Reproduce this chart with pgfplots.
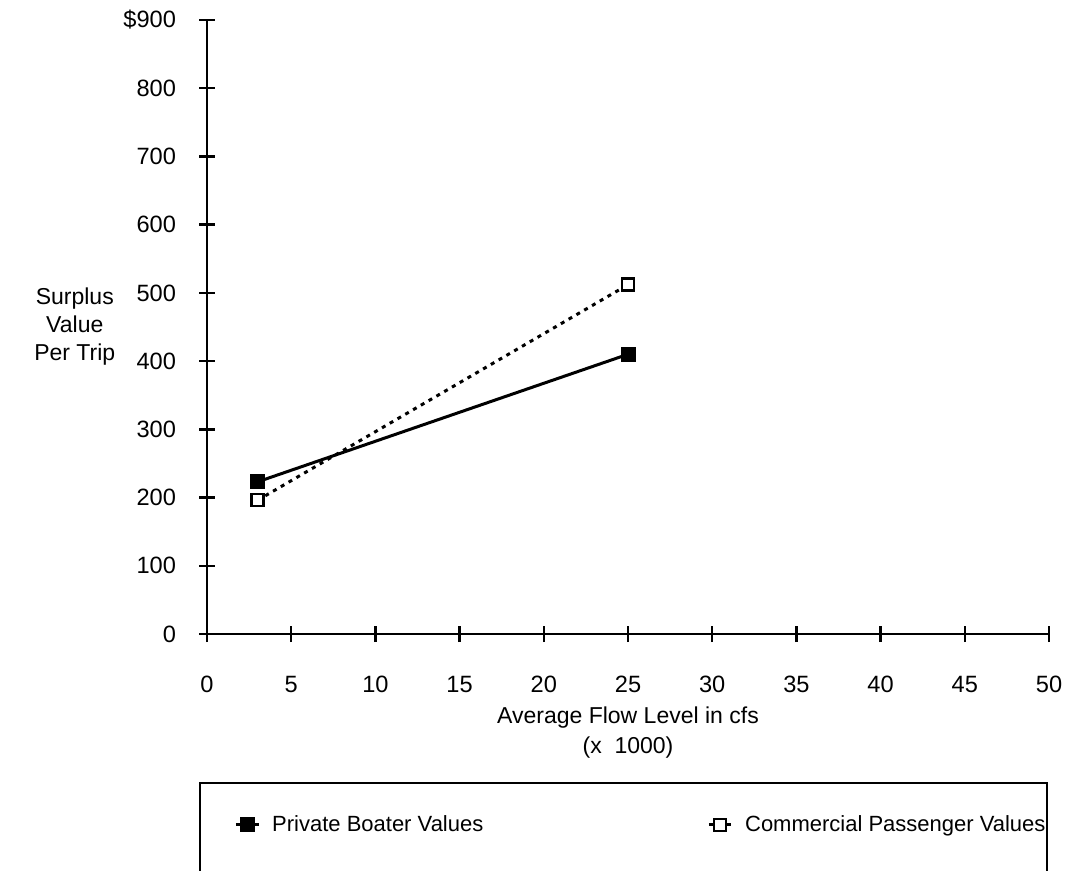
\documentclass[border=0pt]{standalone}
\usepackage{fontspec}
\setmainfont{Liberation Sans}
\usepackage{pgfplots}
\pgfplotsset{compat=1.18}
\begin{document}
\fontsize{11.5}{14}\selectfont
\begin{tikzpicture}
\begin{axis}[
  at={(0,0)}, anchor=south west,
  scale only axis, width=421pt, height=307pt,
  xmin=0, xmax=50, ymin=0, ymax=900,
  axis x line*=bottom, axis y line*=left, axis line style={-, line width=1.4pt},
  xtick={0,5,...,50}, ytick={0,100,...,900},
  yticklabels={0,100,200,300,400,500,600,700,800,\$900},
  tick align=center, major tick length=8pt,
  tick style={line width=1.2pt, black},
  /pgf/number format/assume math mode=true,
  ticklabel style={font=\fontsize{11.8}{14}\selectfont},
  xticklabel style={anchor=base, yshift=-25pt},
  yticklabel style={xshift=-7.5pt},
  xlabel={Average Flow Level in cfs\\(x\ \ 1000)},
  xlabel style={at={(axis description cs:0.5,-0.16)}, anchor=center, align=center, font=\fontsize{11.5}{15}\selectfont},
  ylabel={Surplus\\Value\\Per Trip},
  ylabel style={rotate=-90, at={(axis description cs:-0.157,0.5)}, anchor=center, align=center, font=\fontsize{11.5}{14}\selectfont},
  legend columns=2,
  legend style={at={(0.025,-0.311)}, anchor=west, draw=none, fill=none,
    font=\fontsize{11}{14}\selectfont,
    /tikz/every odd column/.append style={column sep=4pt},
    /tikz/every even column/.append style={column sep=110pt}},
  legend image code/.code={%
    \draw[mark repeat=2,mark phase=2] plot coordinates {(0cm,0cm)(0.2cm,0cm)(0.4cm,0cm)};},
]
\addplot[black, line width=1.5pt, mark=square*, mark size=3pt, mark options={solid, fill=black}]
  coordinates {(3,223) (25,410)};
\addlegendentry{Private Boater Values}
\addplot[black, line width=1.5pt, dash pattern=on 2pt off 2.5pt, mark=square*, mark size=3pt, mark options={solid, fill=white, line width=1.2pt}]
  coordinates {(3,196) (25,512)};
\addlegendentry{Commercial Passenger Values}
\end{axis}
\draw[line width=1.2pt] (-3.5pt,-140pt) -- (-3.5pt,-74.5pt) -- (420pt,-74.5pt) -- (420pt,-140pt);
\pgfresetboundingbox
\path[use as bounding box] (-103.5pt,-118.5pt) rectangle (431pt,317pt);
\end{tikzpicture}
\end{document}
